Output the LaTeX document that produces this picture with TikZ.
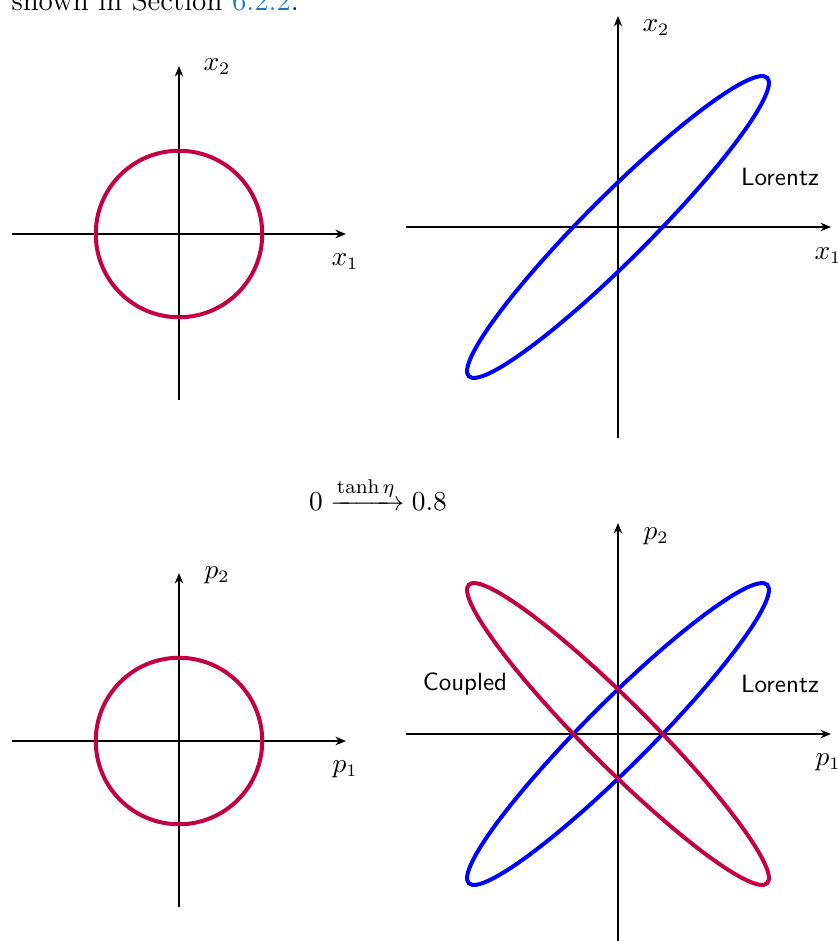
\documentclass[tikz,border=0pt]{standalone}
\usepackage{amsmath}
\usetikzlibrary{arrows.meta}
\definecolor{crim}{RGB}{196,0,68}
\definecolor{linkblue}{RGB}{30,120,190}
\begin{document}
\begin{tikzpicture}[x=0.4pt,y=-0.4pt,
  axis/.style={line width=0.8pt,-{Stealth[length=4.2pt,width=3.4pt]}},
  curve/.style={line width=1.6pt},
  lbl/.style={inner sep=0pt,font=\fontsize{10.5}{12}\selectfont},
  tag/.style={inner sep=0pt,font=\sffamily\fontsize{10}{12}\selectfont}]
\useasboundingbox (0,0) rectangle (838,941);
\node[anchor=base west,inner sep=0pt,font=\fontsize{11.7}{13}\selectfont] (top) at (11,10) {shown in Section \textcolor{linkblue}{6.2.2}.};
% top-left
\coordinate (c1) at (179,234);
\coordinate (c1l) at (12,234); \coordinate (c1r) at (346,234);
\coordinate (c1b) at (179,400); \coordinate (c1t) at (179,66);
\draw[axis] (c1l) -- (c1r);
\draw[axis] (c1b) -- (c1t);
\draw[curve,crim] (c1) circle[radius=33.3pt];
\node[lbl] (x2a) at (217,67) {$x_2$};
\node[lbl] (x1a) at (345,262) {$x_1$};
% top-right
\coordinate (c2) at (618,227);
\coordinate (c2l) at (406,227); \coordinate (c2r) at (831,227);
\coordinate (c2b) at (618,438); \coordinate (c2t) at (618,16);
\draw[axis] (c2l) -- (c2r);
\draw[axis] (c2b) -- (c2t);
\draw[curve,blue,rotate around={45:(c2)}] (c2) ellipse[x radius=84.4pt,y radius=12.8pt];
\node[lbl] (x2b) at (656,28) {$x_2$};
\node[lbl] (x1b) at (828,256) {$x_1$};
\node[tag] (lor1) at (780,177) {Lorentz};
% middle
\node[inner sep=0pt,font=\fontsize{11}{13}\selectfont] (map) at (378,494) {$0 \xrightarrow{\tanh\eta} 0.8$};
% bottom-left
\coordinate (c3) at (179,741);
\coordinate (c3l) at (12,741); \coordinate (c3r) at (346,741);
\coordinate (c3b) at (179,907); \coordinate (c3t) at (179,573);
\draw[axis] (c3l) -- (c3r);
\draw[axis] (c3b) -- (c3t);
\draw[curve,crim] (c3) circle[radius=33.3pt];
\node[lbl] (p2a) at (217,575) {$p_2$};
\node[lbl] (p1a) at (345,769) {$p_1$};
% bottom-right
\coordinate (c4) at (618,734);
\coordinate (c4l) at (406,734); \coordinate (c4r) at (831,734);
\coordinate (c4b) at (618,942); \coordinate (c4t) at (618,523);
\draw[axis] (c4l) -- (c4r);
\draw[axis] (c4b) -- (c4t);
\draw[curve,blue,rotate around={45:(c4)}] (c4) ellipse[x radius=84.4pt,y radius=12.8pt];
\draw[curve,crim,rotate around={-45:(c4)}] (c4) ellipse[x radius=84.4pt,y radius=12.8pt];
\node[lbl] (p2b) at (656,536) {$p_2$};
\node[lbl] (p1b) at (828,762) {$p_1$};
\node[tag] (lor2) at (780,684) {Lorentz};
\node[tag] (cpl) at (465,684) {Coupled};
\end{tikzpicture}
\end{document}
